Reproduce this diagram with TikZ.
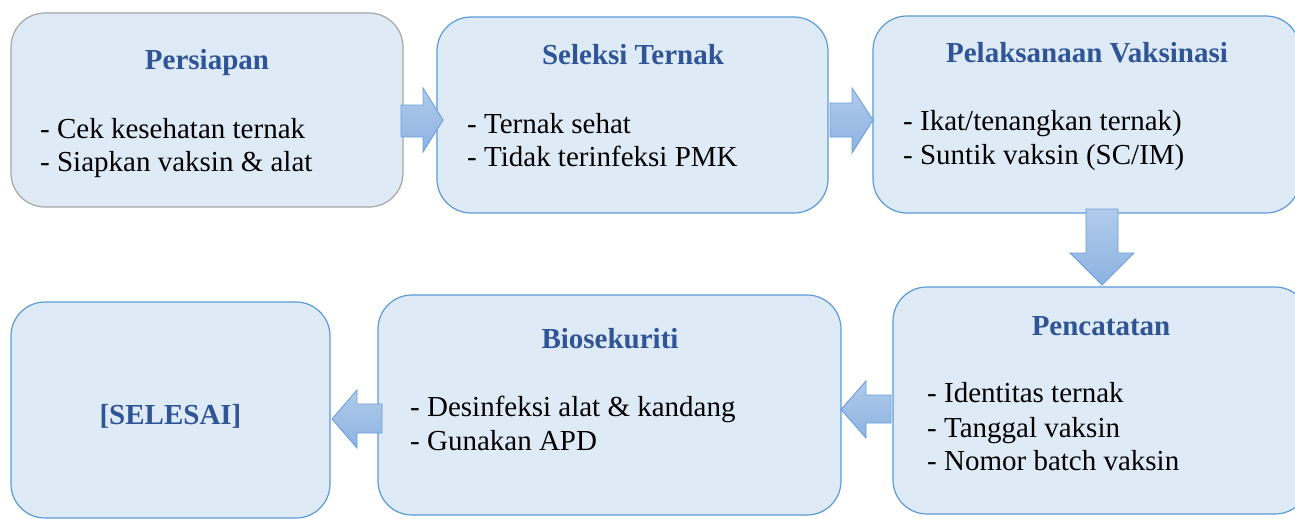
\documentclass[tikz,border=0pt]{standalone}
\usepackage{fontspec}
\setmainfont{Liberation Serif}
\definecolor{boxfill}{HTML}{DEEAF6}
\definecolor{boxline}{HTML}{5B9BD5}
\definecolor{grayline}{HTML}{A5A5A5}
\definecolor{titleblue}{HTML}{2F5597}
\definecolor{arrtop}{HTML}{B0CBEB}
\definecolor{arrbot}{HTML}{8DB3E2}
\definecolor{arrline}{HTML}{6A9FD9}
\begin{document}
\begin{tikzpicture}[x=1pt,y=-1pt,
  box/.style={draw=boxline, fill=boxfill, line width=1.2pt, rounded corners=34pt, inner sep=0pt},
  ttl/.style={font=\fontsize{29}{33}\selectfont\bfseries, text=titleblue, anchor=base, inner sep=0pt},
  itm/.style={font=\fontsize{29}{33}\selectfont, text=black, anchor=base west, inner sep=0pt},
  barrow/.style={draw=arrline, line width=0.9pt, top color=arrtop, bottom color=arrbot, line join=miter}]
\useasboundingbox (0,0) rectangle (1295,519);
\clip (0,0) rectangle (1295,519);
% boxes
\node[box, draw=grayline, minimum width=392pt, minimum height=194pt] (b1) at (207,110) {};
\node[box, minimum width=391pt, minimum height=196pt] (b2) at (632.5,115) {};
\node[box, minimum width=427pt, minimum height=197pt] (b3) at (1086.5,114.5) {};
\node[box, minimum width=416pt, minimum height=227pt] (b4) at (1101,400.5) {};
\node[box, minimum width=463pt, minimum height=220pt] (b5) at (609.5,405) {};
\node[box, minimum width=319pt, minimum height=216pt] (b6) at (170.5,410) {};
% texts
\node[ttl] (t1) at (207,70) {Persiapan};
\node[itm] (t1a) at (40,138) {- Cek kesehatan ternak};
\node[itm] (t1b) at (40,171) {- Siapkan vaksin \& alat};
\node[ttl] (t2) at (633,64) {Seleksi Ternak};
\node[itm] (t2a) at (467,133) {- Ternak sehat};
\node[itm] (t2b) at (467,166) {- Tidak terinfeksi PMK};
\node[ttl] (t3) at (1087,63) {Pelaksanaan Vaksinasi};
\node[itm] (t3a) at (903,130) {- Ikat/tenangkan ternak)};
\node[itm] (t3b) at (903,164) {- Suntik vaksin (SC/IM)};
\node[ttl] (t4) at (1101,335) {Pencatatan};
\node[itm] (t4a) at (927,402) {- Identitas ternak};
\node[itm] (t4b) at (927,437) {- Tanggal vaksin};
\node[itm] (t4c) at (927,470) {- Nomor batch vaksin};
\node[ttl] (t5) at (610,348) {Biosekuriti};
\node[itm] (t5a) at (410,416) {- Desinfeksi alat \& kandang};
\node[itm] (t5b) at (410,450) {- Gunakan APD};
\node[ttl] (t6) at (170.5,424) {[SELESAI]};
% block arrows
\path[barrow] (401,105) -- (423,105) -- (423,88) -- (443,120) -- (423,152) -- (423,137) -- (401,137) -- cycle;
\path[barrow] (830,103) -- (852,103) -- (852,88) -- (873,120) -- (852,153) -- (852,137) -- (830,137) -- cycle;
\path[barrow] (1086,209) -- (1118,209) -- (1118,253) -- (1134,253) -- (1102,285) -- (1070,253) -- (1086,253) -- cycle;
\path[barrow] (891,395) -- (866,395) -- (866,381) -- (841,409.5) -- (866,438) -- (866,423) -- (891,423) -- cycle;
\path[barrow] (382,404) -- (357,404) -- (357,390) -- (332,419) -- (357,448) -- (357,433) -- (382,433) -- cycle;
\end{tikzpicture}
\end{document}
